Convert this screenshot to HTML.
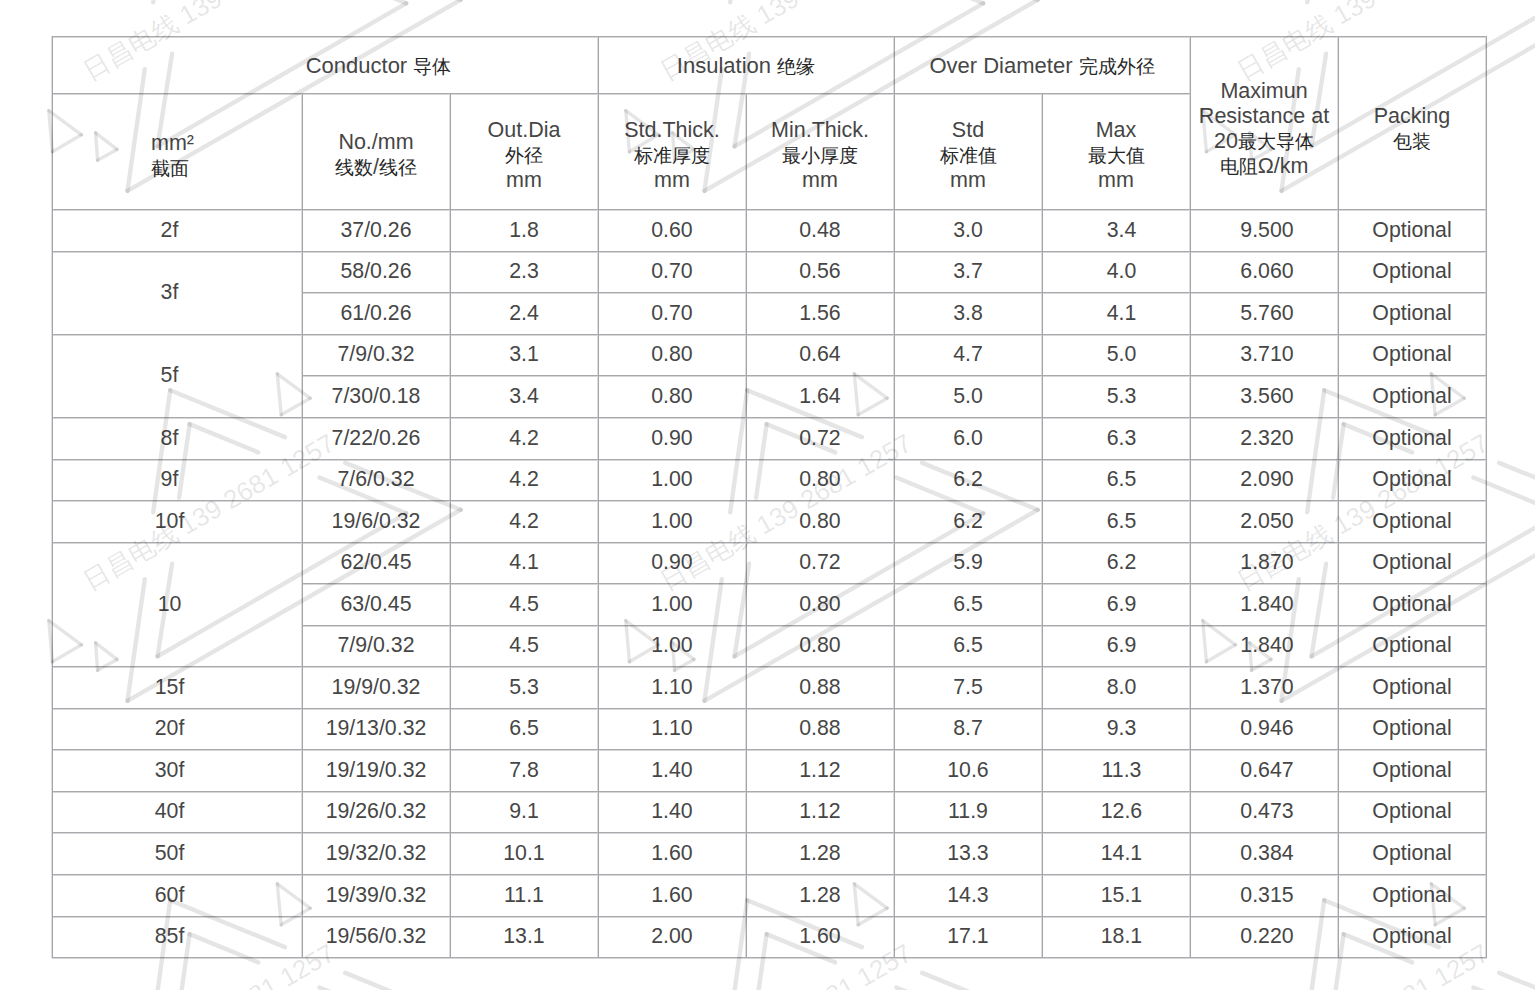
<!DOCTYPE html>
<html><head><meta charset="utf-8"><title>Cable spec table</title>
<style>
html,body{margin:0;padding:0;background:#fff;}
body{width:1535px;height:990px;position:relative;overflow:hidden;font-family:"Liberation Sans",sans-serif;color:#161616;}
.wm{position:absolute;left:0;top:0;width:1535px;height:990px;pointer-events:none;}
.hl{position:absolute;height:1px;background:#a9aaad;}
.hs{position:absolute;height:1px;background:#d6d7d9;}
.vl{position:absolute;width:1px;background:#a4a5a8;}
.vs{position:absolute;width:1px;background:#dcdddf;}
.t{position:absolute;text-align:center;font-size:21.3px;white-space:nowrap;transform:scaleY(1.07);color:#464646;}
.c{font-size:19px;color:#262626;}
.k{display:inline-block;width:1em;text-align:center;}
.h{position:absolute;text-align:center;font-size:21.5px;line-height:25px;white-space:nowrap;color:#464646;}
</style></head><body>
<div class="hs" style="left:52px;top:37px;width:1435px"></div><div class="hs" style="left:52px;top:94px;width:1139px"></div><div class="hs" style="left:52px;top:210px;width:1435px"></div><div class="hs" style="left:52px;top:252px;width:1435px"></div><div class="hs" style="left:302px;top:293px;width:1185px"></div><div class="hs" style="left:52px;top:335px;width:1435px"></div><div class="hs" style="left:302px;top:376px;width:1185px"></div><div class="hs" style="left:52px;top:418px;width:1435px"></div><div class="hs" style="left:52px;top:460px;width:1435px"></div><div class="hs" style="left:52px;top:501px;width:1435px"></div><div class="hs" style="left:52px;top:543px;width:1435px"></div><div class="hs" style="left:302px;top:584px;width:1185px"></div><div class="hs" style="left:302px;top:626px;width:1185px"></div><div class="hs" style="left:52px;top:667px;width:1435px"></div><div class="hs" style="left:52px;top:709px;width:1435px"></div><div class="hs" style="left:52px;top:750px;width:1435px"></div><div class="hs" style="left:52px;top:792px;width:1435px"></div><div class="hs" style="left:52px;top:833px;width:1435px"></div><div class="hs" style="left:52px;top:875px;width:1435px"></div><div class="hs" style="left:52px;top:917px;width:1435px"></div><div class="hs" style="left:52px;top:958px;width:1435px"></div><div class="vs" style="left:51px;top:36px;height:922px"></div><div class="vs" style="left:1485px;top:36px;height:922px"></div><div class="vs" style="left:597px;top:36px;height:922px"></div><div class="vs" style="left:893px;top:36px;height:922px"></div><div class="vs" style="left:1189px;top:36px;height:922px"></div><div class="vs" style="left:1337px;top:36px;height:922px"></div><div class="vs" style="left:301px;top:93px;height:865px"></div><div class="vs" style="left:449px;top:93px;height:865px"></div><div class="vs" style="left:745px;top:93px;height:865px"></div><div class="vs" style="left:1041px;top:93px;height:865px"></div><div class="hl" style="left:52px;top:36px;width:1435px"></div><div class="hl" style="left:52px;top:93px;width:1139px"></div><div class="hl" style="left:52px;top:209px;width:1435px"></div><div class="hl" style="left:52px;top:251px;width:1435px"></div><div class="hl" style="left:302px;top:292px;width:1185px"></div><div class="hl" style="left:52px;top:334px;width:1435px"></div><div class="hl" style="left:302px;top:375px;width:1185px"></div><div class="hl" style="left:52px;top:417px;width:1435px"></div><div class="hl" style="left:52px;top:459px;width:1435px"></div><div class="hl" style="left:52px;top:500px;width:1435px"></div><div class="hl" style="left:52px;top:542px;width:1435px"></div><div class="hl" style="left:302px;top:583px;width:1185px"></div><div class="hl" style="left:302px;top:625px;width:1185px"></div><div class="hl" style="left:52px;top:666px;width:1435px"></div><div class="hl" style="left:52px;top:708px;width:1435px"></div><div class="hl" style="left:52px;top:749px;width:1435px"></div><div class="hl" style="left:52px;top:791px;width:1435px"></div><div class="hl" style="left:52px;top:832px;width:1435px"></div><div class="hl" style="left:52px;top:874px;width:1435px"></div><div class="hl" style="left:52px;top:916px;width:1435px"></div><div class="hl" style="left:52px;top:957px;width:1435px"></div><div class="vl" style="left:52px;top:36px;height:922px"></div><div class="vl" style="left:1486px;top:36px;height:922px"></div><div class="vl" style="left:598px;top:36px;height:922px"></div><div class="vl" style="left:894px;top:36px;height:922px"></div><div class="vl" style="left:1190px;top:36px;height:922px"></div><div class="vl" style="left:1338px;top:36px;height:922px"></div><div class="vl" style="left:302px;top:93px;height:865px"></div><div class="vl" style="left:450px;top:93px;height:865px"></div><div class="vl" style="left:746px;top:93px;height:865px"></div><div class="vl" style="left:1042px;top:93px;height:865px"></div><div class="t" style="left:378.5px;top:37.0px;width:400px;margin-left:-200px;height:58.0px;line-height:58.0px;font-size:22px;transform:none">Conductor <span class="c"><span class="k">导</span><span class="k">体</span></span></div><div class="t" style="left:746.0px;top:37.0px;width:400px;margin-left:-200px;height:58.0px;line-height:58.0px;font-size:22px;transform:none">Insulation <span class="c"><span class="k">绝</span><span class="k">缘</span></span></div><div class="t" style="left:1042.0px;top:37.0px;width:400px;margin-left:-200px;height:58.0px;line-height:58.0px;font-size:22px;transform:none">Over Diameter <span class="c"><span class="k">完</span><span class="k">成</span><span class="k">外</span><span class="k">径</span></span></div><div class="h" style="left:1264.0px;top:78.5px;width:240px;margin-left:-120px;">Maximun<br>Resistance at<br>20<span class="c"><span class="k">最</span><span class="k">大</span><span class="k">导</span><span class="k">体</span></span><br><span class="c"><span class="k">电</span><span class="k">阻</span></span>Ω/km</div><div class="h" style="left:1412.0px;top:103.5px;width:240px;margin-left:-120px;">Packing<br><span class="c"><span class="k">包</span><span class="k">装</span></span></div><div class="h" style="left:151px;top:130.5px;text-align:left">mm²<br><span class="c"><span class="k">截</span><span class="k">面</span></span></div><div class="h" style="left:376.0px;top:130.0px;width:240px;margin-left:-120px;">No./mm<br><span class="c"><span class="k">线</span><span class="k">数</span></span>/<span class="c"><span class="k">线</span><span class="k">径</span></span></div><div class="h" style="left:524.0px;top:117.5px;width:240px;margin-left:-120px;">Out.Dia<br><span class="c"><span class="k">外</span><span class="k">径</span></span><br>mm</div><div class="h" style="left:672.0px;top:117.5px;width:240px;margin-left:-120px;">Std.Thick.<br><span class="c"><span class="k">标</span><span class="k">准</span><span class="k">厚</span><span class="k">度</span></span><br>mm</div><div class="h" style="left:820.0px;top:117.5px;width:240px;margin-left:-120px;">Min.Thick.<br><span class="c"><span class="k">最</span><span class="k">小</span><span class="k">厚</span><span class="k">度</span></span><br>mm</div><div class="h" style="left:968.0px;top:117.5px;width:240px;margin-left:-120px;">Std<br><span class="c"><span class="k">标</span><span class="k">准</span><span class="k">值</span></span><br>mm</div><div class="h" style="left:1116.0px;top:117.5px;width:240px;margin-left:-120px;">Max<br><span class="c"><span class="k">最</span><span class="k">大</span><span class="k">值</span></span><br>mm</div><div class="t" style="left:169.5px;top:209.8px;width:400px;margin-left:-200px;height:41.5px;line-height:41.5px;">2f</div><div class="t" style="left:376.0px;top:209.8px;width:400px;margin-left:-200px;height:41.5px;line-height:41.5px;">37/0.26</div><div class="t" style="left:524.0px;top:209.8px;width:400px;margin-left:-200px;height:41.5px;line-height:41.5px;">1.8</div><div class="t" style="left:672.0px;top:209.8px;width:400px;margin-left:-200px;height:41.5px;line-height:41.5px;">0.60</div><div class="t" style="left:820.0px;top:209.8px;width:400px;margin-left:-200px;height:41.5px;line-height:41.5px;">0.48</div><div class="t" style="left:968.0px;top:209.8px;width:400px;margin-left:-200px;height:41.5px;line-height:41.5px;">3.0</div><div class="t" style="left:1121.5px;top:209.8px;width:400px;margin-left:-200px;height:41.5px;line-height:41.5px;">3.4</div><div class="t" style="left:1267.0px;top:209.8px;width:400px;margin-left:-200px;height:41.5px;line-height:41.5px;">9.500</div><div class="t" style="left:1412.0px;top:209.8px;width:400px;margin-left:-200px;height:41.5px;line-height:41.5px;">Optional</div><div class="t" style="left:169.5px;top:251.3px;width:400px;margin-left:-200px;height:83.1px;line-height:83.1px;">3f</div><div class="t" style="left:376.0px;top:251.3px;width:400px;margin-left:-200px;height:41.5px;line-height:41.5px;">58/0.26</div><div class="t" style="left:524.0px;top:251.3px;width:400px;margin-left:-200px;height:41.5px;line-height:41.5px;">2.3</div><div class="t" style="left:672.0px;top:251.3px;width:400px;margin-left:-200px;height:41.5px;line-height:41.5px;">0.70</div><div class="t" style="left:820.0px;top:251.3px;width:400px;margin-left:-200px;height:41.5px;line-height:41.5px;">0.56</div><div class="t" style="left:968.0px;top:251.3px;width:400px;margin-left:-200px;height:41.5px;line-height:41.5px;">3.7</div><div class="t" style="left:1121.5px;top:251.3px;width:400px;margin-left:-200px;height:41.5px;line-height:41.5px;">4.0</div><div class="t" style="left:1267.0px;top:251.3px;width:400px;margin-left:-200px;height:41.5px;line-height:41.5px;">6.060</div><div class="t" style="left:1412.0px;top:251.3px;width:400px;margin-left:-200px;height:41.5px;line-height:41.5px;">Optional</div><div class="t" style="left:376.0px;top:292.9px;width:400px;margin-left:-200px;height:41.5px;line-height:41.5px;">61/0.26</div><div class="t" style="left:524.0px;top:292.9px;width:400px;margin-left:-200px;height:41.5px;line-height:41.5px;">2.4</div><div class="t" style="left:672.0px;top:292.9px;width:400px;margin-left:-200px;height:41.5px;line-height:41.5px;">0.70</div><div class="t" style="left:820.0px;top:292.9px;width:400px;margin-left:-200px;height:41.5px;line-height:41.5px;">1.56</div><div class="t" style="left:968.0px;top:292.9px;width:400px;margin-left:-200px;height:41.5px;line-height:41.5px;">3.8</div><div class="t" style="left:1121.5px;top:292.9px;width:400px;margin-left:-200px;height:41.5px;line-height:41.5px;">4.1</div><div class="t" style="left:1267.0px;top:292.9px;width:400px;margin-left:-200px;height:41.5px;line-height:41.5px;">5.760</div><div class="t" style="left:1412.0px;top:292.9px;width:400px;margin-left:-200px;height:41.5px;line-height:41.5px;">Optional</div><div class="t" style="left:169.5px;top:334.4px;width:400px;margin-left:-200px;height:83.1px;line-height:83.1px;">5f</div><div class="t" style="left:376.0px;top:334.4px;width:400px;margin-left:-200px;height:41.5px;line-height:41.5px;">7/9/0.32</div><div class="t" style="left:524.0px;top:334.4px;width:400px;margin-left:-200px;height:41.5px;line-height:41.5px;">3.1</div><div class="t" style="left:672.0px;top:334.4px;width:400px;margin-left:-200px;height:41.5px;line-height:41.5px;">0.80</div><div class="t" style="left:820.0px;top:334.4px;width:400px;margin-left:-200px;height:41.5px;line-height:41.5px;">0.64</div><div class="t" style="left:968.0px;top:334.4px;width:400px;margin-left:-200px;height:41.5px;line-height:41.5px;">4.7</div><div class="t" style="left:1121.5px;top:334.4px;width:400px;margin-left:-200px;height:41.5px;line-height:41.5px;">5.0</div><div class="t" style="left:1267.0px;top:334.4px;width:400px;margin-left:-200px;height:41.5px;line-height:41.5px;">3.710</div><div class="t" style="left:1412.0px;top:334.4px;width:400px;margin-left:-200px;height:41.5px;line-height:41.5px;">Optional</div><div class="t" style="left:376.0px;top:376.0px;width:400px;margin-left:-200px;height:41.5px;line-height:41.5px;">7/30/0.18</div><div class="t" style="left:524.0px;top:376.0px;width:400px;margin-left:-200px;height:41.5px;line-height:41.5px;">3.4</div><div class="t" style="left:672.0px;top:376.0px;width:400px;margin-left:-200px;height:41.5px;line-height:41.5px;">0.80</div><div class="t" style="left:820.0px;top:376.0px;width:400px;margin-left:-200px;height:41.5px;line-height:41.5px;">1.64</div><div class="t" style="left:968.0px;top:376.0px;width:400px;margin-left:-200px;height:41.5px;line-height:41.5px;">5.0</div><div class="t" style="left:1121.5px;top:376.0px;width:400px;margin-left:-200px;height:41.5px;line-height:41.5px;">5.3</div><div class="t" style="left:1267.0px;top:376.0px;width:400px;margin-left:-200px;height:41.5px;line-height:41.5px;">3.560</div><div class="t" style="left:1412.0px;top:376.0px;width:400px;margin-left:-200px;height:41.5px;line-height:41.5px;">Optional</div><div class="t" style="left:169.5px;top:417.5px;width:400px;margin-left:-200px;height:41.5px;line-height:41.5px;">8f</div><div class="t" style="left:376.0px;top:417.5px;width:400px;margin-left:-200px;height:41.5px;line-height:41.5px;">7/22/0.26</div><div class="t" style="left:524.0px;top:417.5px;width:400px;margin-left:-200px;height:41.5px;line-height:41.5px;">4.2</div><div class="t" style="left:672.0px;top:417.5px;width:400px;margin-left:-200px;height:41.5px;line-height:41.5px;">0.90</div><div class="t" style="left:820.0px;top:417.5px;width:400px;margin-left:-200px;height:41.5px;line-height:41.5px;">0.72</div><div class="t" style="left:968.0px;top:417.5px;width:400px;margin-left:-200px;height:41.5px;line-height:41.5px;">6.0</div><div class="t" style="left:1121.5px;top:417.5px;width:400px;margin-left:-200px;height:41.5px;line-height:41.5px;">6.3</div><div class="t" style="left:1267.0px;top:417.5px;width:400px;margin-left:-200px;height:41.5px;line-height:41.5px;">2.320</div><div class="t" style="left:1412.0px;top:417.5px;width:400px;margin-left:-200px;height:41.5px;line-height:41.5px;">Optional</div><div class="t" style="left:169.5px;top:459.1px;width:400px;margin-left:-200px;height:41.5px;line-height:41.5px;">9f</div><div class="t" style="left:376.0px;top:459.1px;width:400px;margin-left:-200px;height:41.5px;line-height:41.5px;">7/6/0.32</div><div class="t" style="left:524.0px;top:459.1px;width:400px;margin-left:-200px;height:41.5px;line-height:41.5px;">4.2</div><div class="t" style="left:672.0px;top:459.1px;width:400px;margin-left:-200px;height:41.5px;line-height:41.5px;">1.00</div><div class="t" style="left:820.0px;top:459.1px;width:400px;margin-left:-200px;height:41.5px;line-height:41.5px;">0.80</div><div class="t" style="left:968.0px;top:459.1px;width:400px;margin-left:-200px;height:41.5px;line-height:41.5px;">6.2</div><div class="t" style="left:1121.5px;top:459.1px;width:400px;margin-left:-200px;height:41.5px;line-height:41.5px;">6.5</div><div class="t" style="left:1267.0px;top:459.1px;width:400px;margin-left:-200px;height:41.5px;line-height:41.5px;">2.090</div><div class="t" style="left:1412.0px;top:459.1px;width:400px;margin-left:-200px;height:41.5px;line-height:41.5px;">Optional</div><div class="t" style="left:169.5px;top:500.6px;width:400px;margin-left:-200px;height:41.5px;line-height:41.5px;">10f</div><div class="t" style="left:376.0px;top:500.6px;width:400px;margin-left:-200px;height:41.5px;line-height:41.5px;">19/6/0.32</div><div class="t" style="left:524.0px;top:500.6px;width:400px;margin-left:-200px;height:41.5px;line-height:41.5px;">4.2</div><div class="t" style="left:672.0px;top:500.6px;width:400px;margin-left:-200px;height:41.5px;line-height:41.5px;">1.00</div><div class="t" style="left:820.0px;top:500.6px;width:400px;margin-left:-200px;height:41.5px;line-height:41.5px;">0.80</div><div class="t" style="left:968.0px;top:500.6px;width:400px;margin-left:-200px;height:41.5px;line-height:41.5px;">6.2</div><div class="t" style="left:1121.5px;top:500.6px;width:400px;margin-left:-200px;height:41.5px;line-height:41.5px;">6.5</div><div class="t" style="left:1267.0px;top:500.6px;width:400px;margin-left:-200px;height:41.5px;line-height:41.5px;">2.050</div><div class="t" style="left:1412.0px;top:500.6px;width:400px;margin-left:-200px;height:41.5px;line-height:41.5px;">Optional</div><div class="t" style="left:169.5px;top:542.2px;width:400px;margin-left:-200px;height:124.6px;line-height:124.6px;">10</div><div class="t" style="left:376.0px;top:542.2px;width:400px;margin-left:-200px;height:41.5px;line-height:41.5px;">62/0.45</div><div class="t" style="left:524.0px;top:542.2px;width:400px;margin-left:-200px;height:41.5px;line-height:41.5px;">4.1</div><div class="t" style="left:672.0px;top:542.2px;width:400px;margin-left:-200px;height:41.5px;line-height:41.5px;">0.90</div><div class="t" style="left:820.0px;top:542.2px;width:400px;margin-left:-200px;height:41.5px;line-height:41.5px;">0.72</div><div class="t" style="left:968.0px;top:542.2px;width:400px;margin-left:-200px;height:41.5px;line-height:41.5px;">5.9</div><div class="t" style="left:1121.5px;top:542.2px;width:400px;margin-left:-200px;height:41.5px;line-height:41.5px;">6.2</div><div class="t" style="left:1267.0px;top:542.2px;width:400px;margin-left:-200px;height:41.5px;line-height:41.5px;">1.870</div><div class="t" style="left:1412.0px;top:542.2px;width:400px;margin-left:-200px;height:41.5px;line-height:41.5px;">Optional</div><div class="t" style="left:376.0px;top:583.7px;width:400px;margin-left:-200px;height:41.5px;line-height:41.5px;">63/0.45</div><div class="t" style="left:524.0px;top:583.7px;width:400px;margin-left:-200px;height:41.5px;line-height:41.5px;">4.5</div><div class="t" style="left:672.0px;top:583.7px;width:400px;margin-left:-200px;height:41.5px;line-height:41.5px;">1.00</div><div class="t" style="left:820.0px;top:583.7px;width:400px;margin-left:-200px;height:41.5px;line-height:41.5px;">0.80</div><div class="t" style="left:968.0px;top:583.7px;width:400px;margin-left:-200px;height:41.5px;line-height:41.5px;">6.5</div><div class="t" style="left:1121.5px;top:583.7px;width:400px;margin-left:-200px;height:41.5px;line-height:41.5px;">6.9</div><div class="t" style="left:1267.0px;top:583.7px;width:400px;margin-left:-200px;height:41.5px;line-height:41.5px;">1.840</div><div class="t" style="left:1412.0px;top:583.7px;width:400px;margin-left:-200px;height:41.5px;line-height:41.5px;">Optional</div><div class="t" style="left:376.0px;top:625.2px;width:400px;margin-left:-200px;height:41.5px;line-height:41.5px;">7/9/0.32</div><div class="t" style="left:524.0px;top:625.2px;width:400px;margin-left:-200px;height:41.5px;line-height:41.5px;">4.5</div><div class="t" style="left:672.0px;top:625.2px;width:400px;margin-left:-200px;height:41.5px;line-height:41.5px;">1.00</div><div class="t" style="left:820.0px;top:625.2px;width:400px;margin-left:-200px;height:41.5px;line-height:41.5px;">0.80</div><div class="t" style="left:968.0px;top:625.2px;width:400px;margin-left:-200px;height:41.5px;line-height:41.5px;">6.5</div><div class="t" style="left:1121.5px;top:625.2px;width:400px;margin-left:-200px;height:41.5px;line-height:41.5px;">6.9</div><div class="t" style="left:1267.0px;top:625.2px;width:400px;margin-left:-200px;height:41.5px;line-height:41.5px;">1.840</div><div class="t" style="left:1412.0px;top:625.2px;width:400px;margin-left:-200px;height:41.5px;line-height:41.5px;">Optional</div><div class="t" style="left:169.5px;top:666.8px;width:400px;margin-left:-200px;height:41.5px;line-height:41.5px;">15f</div><div class="t" style="left:376.0px;top:666.8px;width:400px;margin-left:-200px;height:41.5px;line-height:41.5px;">19/9/0.32</div><div class="t" style="left:524.0px;top:666.8px;width:400px;margin-left:-200px;height:41.5px;line-height:41.5px;">5.3</div><div class="t" style="left:672.0px;top:666.8px;width:400px;margin-left:-200px;height:41.5px;line-height:41.5px;">1.10</div><div class="t" style="left:820.0px;top:666.8px;width:400px;margin-left:-200px;height:41.5px;line-height:41.5px;">0.88</div><div class="t" style="left:968.0px;top:666.8px;width:400px;margin-left:-200px;height:41.5px;line-height:41.5px;">7.5</div><div class="t" style="left:1121.5px;top:666.8px;width:400px;margin-left:-200px;height:41.5px;line-height:41.5px;">8.0</div><div class="t" style="left:1267.0px;top:666.8px;width:400px;margin-left:-200px;height:41.5px;line-height:41.5px;">1.370</div><div class="t" style="left:1412.0px;top:666.8px;width:400px;margin-left:-200px;height:41.5px;line-height:41.5px;">Optional</div><div class="t" style="left:169.5px;top:708.3px;width:400px;margin-left:-200px;height:41.5px;line-height:41.5px;">20f</div><div class="t" style="left:376.0px;top:708.3px;width:400px;margin-left:-200px;height:41.5px;line-height:41.5px;">19/13/0.32</div><div class="t" style="left:524.0px;top:708.3px;width:400px;margin-left:-200px;height:41.5px;line-height:41.5px;">6.5</div><div class="t" style="left:672.0px;top:708.3px;width:400px;margin-left:-200px;height:41.5px;line-height:41.5px;">1.10</div><div class="t" style="left:820.0px;top:708.3px;width:400px;margin-left:-200px;height:41.5px;line-height:41.5px;">0.88</div><div class="t" style="left:968.0px;top:708.3px;width:400px;margin-left:-200px;height:41.5px;line-height:41.5px;">8.7</div><div class="t" style="left:1121.5px;top:708.3px;width:400px;margin-left:-200px;height:41.5px;line-height:41.5px;">9.3</div><div class="t" style="left:1267.0px;top:708.3px;width:400px;margin-left:-200px;height:41.5px;line-height:41.5px;">0.946</div><div class="t" style="left:1412.0px;top:708.3px;width:400px;margin-left:-200px;height:41.5px;line-height:41.5px;">Optional</div><div class="t" style="left:169.5px;top:749.9px;width:400px;margin-left:-200px;height:41.5px;line-height:41.5px;">30f</div><div class="t" style="left:376.0px;top:749.9px;width:400px;margin-left:-200px;height:41.5px;line-height:41.5px;">19/19/0.32</div><div class="t" style="left:524.0px;top:749.9px;width:400px;margin-left:-200px;height:41.5px;line-height:41.5px;">7.8</div><div class="t" style="left:672.0px;top:749.9px;width:400px;margin-left:-200px;height:41.5px;line-height:41.5px;">1.40</div><div class="t" style="left:820.0px;top:749.9px;width:400px;margin-left:-200px;height:41.5px;line-height:41.5px;">1.12</div><div class="t" style="left:968.0px;top:749.9px;width:400px;margin-left:-200px;height:41.5px;line-height:41.5px;">10.6</div><div class="t" style="left:1121.5px;top:749.9px;width:400px;margin-left:-200px;height:41.5px;line-height:41.5px;">11.3</div><div class="t" style="left:1267.0px;top:749.9px;width:400px;margin-left:-200px;height:41.5px;line-height:41.5px;">0.647</div><div class="t" style="left:1412.0px;top:749.9px;width:400px;margin-left:-200px;height:41.5px;line-height:41.5px;">Optional</div><div class="t" style="left:169.5px;top:791.4px;width:400px;margin-left:-200px;height:41.5px;line-height:41.5px;">40f</div><div class="t" style="left:376.0px;top:791.4px;width:400px;margin-left:-200px;height:41.5px;line-height:41.5px;">19/26/0.32</div><div class="t" style="left:524.0px;top:791.4px;width:400px;margin-left:-200px;height:41.5px;line-height:41.5px;">9.1</div><div class="t" style="left:672.0px;top:791.4px;width:400px;margin-left:-200px;height:41.5px;line-height:41.5px;">1.40</div><div class="t" style="left:820.0px;top:791.4px;width:400px;margin-left:-200px;height:41.5px;line-height:41.5px;">1.12</div><div class="t" style="left:968.0px;top:791.4px;width:400px;margin-left:-200px;height:41.5px;line-height:41.5px;">11.9</div><div class="t" style="left:1121.5px;top:791.4px;width:400px;margin-left:-200px;height:41.5px;line-height:41.5px;">12.6</div><div class="t" style="left:1267.0px;top:791.4px;width:400px;margin-left:-200px;height:41.5px;line-height:41.5px;">0.473</div><div class="t" style="left:1412.0px;top:791.4px;width:400px;margin-left:-200px;height:41.5px;line-height:41.5px;">Optional</div><div class="t" style="left:169.5px;top:833.0px;width:400px;margin-left:-200px;height:41.5px;line-height:41.5px;">50f</div><div class="t" style="left:376.0px;top:833.0px;width:400px;margin-left:-200px;height:41.5px;line-height:41.5px;">19/32/0.32</div><div class="t" style="left:524.0px;top:833.0px;width:400px;margin-left:-200px;height:41.5px;line-height:41.5px;">10.1</div><div class="t" style="left:672.0px;top:833.0px;width:400px;margin-left:-200px;height:41.5px;line-height:41.5px;">1.60</div><div class="t" style="left:820.0px;top:833.0px;width:400px;margin-left:-200px;height:41.5px;line-height:41.5px;">1.28</div><div class="t" style="left:968.0px;top:833.0px;width:400px;margin-left:-200px;height:41.5px;line-height:41.5px;">13.3</div><div class="t" style="left:1121.5px;top:833.0px;width:400px;margin-left:-200px;height:41.5px;line-height:41.5px;">14.1</div><div class="t" style="left:1267.0px;top:833.0px;width:400px;margin-left:-200px;height:41.5px;line-height:41.5px;">0.384</div><div class="t" style="left:1412.0px;top:833.0px;width:400px;margin-left:-200px;height:41.5px;line-height:41.5px;">Optional</div><div class="t" style="left:169.5px;top:874.5px;width:400px;margin-left:-200px;height:41.5px;line-height:41.5px;">60f</div><div class="t" style="left:376.0px;top:874.5px;width:400px;margin-left:-200px;height:41.5px;line-height:41.5px;">19/39/0.32</div><div class="t" style="left:524.0px;top:874.5px;width:400px;margin-left:-200px;height:41.5px;line-height:41.5px;">11.1</div><div class="t" style="left:672.0px;top:874.5px;width:400px;margin-left:-200px;height:41.5px;line-height:41.5px;">1.60</div><div class="t" style="left:820.0px;top:874.5px;width:400px;margin-left:-200px;height:41.5px;line-height:41.5px;">1.28</div><div class="t" style="left:968.0px;top:874.5px;width:400px;margin-left:-200px;height:41.5px;line-height:41.5px;">14.3</div><div class="t" style="left:1121.5px;top:874.5px;width:400px;margin-left:-200px;height:41.5px;line-height:41.5px;">15.1</div><div class="t" style="left:1267.0px;top:874.5px;width:400px;margin-left:-200px;height:41.5px;line-height:41.5px;">0.315</div><div class="t" style="left:1412.0px;top:874.5px;width:400px;margin-left:-200px;height:41.5px;line-height:41.5px;">Optional</div><div class="t" style="left:169.5px;top:916.1px;width:400px;margin-left:-200px;height:41.5px;line-height:41.5px;">85f</div><div class="t" style="left:376.0px;top:916.1px;width:400px;margin-left:-200px;height:41.5px;line-height:41.5px;">19/56/0.32</div><div class="t" style="left:524.0px;top:916.1px;width:400px;margin-left:-200px;height:41.5px;line-height:41.5px;">13.1</div><div class="t" style="left:672.0px;top:916.1px;width:400px;margin-left:-200px;height:41.5px;line-height:41.5px;">2.00</div><div class="t" style="left:820.0px;top:916.1px;width:400px;margin-left:-200px;height:41.5px;line-height:41.5px;">1.60</div><div class="t" style="left:968.0px;top:916.1px;width:400px;margin-left:-200px;height:41.5px;line-height:41.5px;">17.1</div><div class="t" style="left:1121.5px;top:916.1px;width:400px;margin-left:-200px;height:41.5px;line-height:41.5px;">18.1</div><div class="t" style="left:1267.0px;top:916.1px;width:400px;margin-left:-200px;height:41.5px;line-height:41.5px;">0.220</div><div class="t" style="left:1412.0px;top:916.1px;width:400px;margin-left:-200px;height:41.5px;line-height:41.5px;">Optional</div><svg class="wm" width="1535" height="990" viewBox="0 0 1535 990"><g fill="none" stroke="rgba(0,0,0,0.1)" stroke-width="4.4" stroke-linecap="round" font-family="Liberation Sans, sans-serif"><g transform="translate(-577 -510)"><g stroke-width="3.4"><line x1="625.8" y1="620.6" x2="629.4" y2="661.8"/><line x1="629.4" y1="661.8" x2="658.5" y2="644.8"/><line x1="658.5" y1="644.8" x2="625.8" y2="620.6"/><line x1="672.6" y1="642.8" x2="674.6" y2="670.3"/><line x1="674.6" y1="670.3" x2="694.0" y2="659.4"/><line x1="694.0" y1="659.4" x2="672.6" y2="642.8"/><line x1="854.3" y1="373.8" x2="858.2" y2="414.8"/><line x1="858.2" y1="414.8" x2="887.2" y2="398.2"/><line x1="887.2" y1="398.2" x2="854.3" y2="373.8"/></g><line x1="730.2" y1="512.2" x2="747.2" y2="390.2"/><line x1="747.2" y1="390.2" x2="861.9" y2="437.1"/><line x1="756.1" y1="497.7" x2="766.6" y2="424.1"/><line x1="766.6" y1="424.1" x2="835.2" y2="452.4"/><line x1="922.2" y1="462.9" x2="1037.7" y2="509.8"/><line x1="1037.7" y1="509.8" x2="704.5" y2="700.9"/><line x1="704.5" y1="700.9" x2="721.8" y2="579.1"/><line x1="896.4" y1="477.5" x2="983.2" y2="513.3"/><line x1="983.2" y1="513.3" x2="734.5" y2="656.4"/><line x1="734.5" y1="656.4" x2="749.1" y2="563.6"/><text x="667" y="591" transform="rotate(-30 667 591)" font-size="26" textLength="285" lengthAdjust="spacing" fill="rgba(0,0,0,0.11)" stroke="none">日昌电线 139 2681 1257</text></g><g transform="translate(-577 0)"><g stroke-width="3.4"><line x1="625.8" y1="620.6" x2="629.4" y2="661.8"/><line x1="629.4" y1="661.8" x2="658.5" y2="644.8"/><line x1="658.5" y1="644.8" x2="625.8" y2="620.6"/><line x1="672.6" y1="642.8" x2="674.6" y2="670.3"/><line x1="674.6" y1="670.3" x2="694.0" y2="659.4"/><line x1="694.0" y1="659.4" x2="672.6" y2="642.8"/><line x1="854.3" y1="373.8" x2="858.2" y2="414.8"/><line x1="858.2" y1="414.8" x2="887.2" y2="398.2"/><line x1="887.2" y1="398.2" x2="854.3" y2="373.8"/></g><line x1="730.2" y1="512.2" x2="747.2" y2="390.2"/><line x1="747.2" y1="390.2" x2="861.9" y2="437.1"/><line x1="756.1" y1="497.7" x2="766.6" y2="424.1"/><line x1="766.6" y1="424.1" x2="835.2" y2="452.4"/><line x1="922.2" y1="462.9" x2="1037.7" y2="509.8"/><line x1="1037.7" y1="509.8" x2="704.5" y2="700.9"/><line x1="704.5" y1="700.9" x2="721.8" y2="579.1"/><line x1="896.4" y1="477.5" x2="983.2" y2="513.3"/><line x1="983.2" y1="513.3" x2="734.5" y2="656.4"/><line x1="734.5" y1="656.4" x2="749.1" y2="563.6"/><text x="667" y="591" transform="rotate(-30 667 591)" font-size="26" textLength="285" lengthAdjust="spacing" fill="rgba(0,0,0,0.11)" stroke="none">日昌电线 139 2681 1257</text></g><g transform="translate(-577 510)"><g stroke-width="3.4"><line x1="625.8" y1="620.6" x2="629.4" y2="661.8"/><line x1="629.4" y1="661.8" x2="658.5" y2="644.8"/><line x1="658.5" y1="644.8" x2="625.8" y2="620.6"/><line x1="672.6" y1="642.8" x2="674.6" y2="670.3"/><line x1="674.6" y1="670.3" x2="694.0" y2="659.4"/><line x1="694.0" y1="659.4" x2="672.6" y2="642.8"/><line x1="854.3" y1="373.8" x2="858.2" y2="414.8"/><line x1="858.2" y1="414.8" x2="887.2" y2="398.2"/><line x1="887.2" y1="398.2" x2="854.3" y2="373.8"/></g><line x1="730.2" y1="512.2" x2="747.2" y2="390.2"/><line x1="747.2" y1="390.2" x2="861.9" y2="437.1"/><line x1="756.1" y1="497.7" x2="766.6" y2="424.1"/><line x1="766.6" y1="424.1" x2="835.2" y2="452.4"/><line x1="922.2" y1="462.9" x2="1037.7" y2="509.8"/><line x1="1037.7" y1="509.8" x2="704.5" y2="700.9"/><line x1="704.5" y1="700.9" x2="721.8" y2="579.1"/><line x1="896.4" y1="477.5" x2="983.2" y2="513.3"/><line x1="983.2" y1="513.3" x2="734.5" y2="656.4"/><line x1="734.5" y1="656.4" x2="749.1" y2="563.6"/><text x="667" y="591" transform="rotate(-30 667 591)" font-size="26" textLength="285" lengthAdjust="spacing" fill="rgba(0,0,0,0.11)" stroke="none">日昌电线 139 2681 1257</text></g><g transform="translate(0 -510)"><g stroke-width="3.4"><line x1="625.8" y1="620.6" x2="629.4" y2="661.8"/><line x1="629.4" y1="661.8" x2="658.5" y2="644.8"/><line x1="658.5" y1="644.8" x2="625.8" y2="620.6"/><line x1="672.6" y1="642.8" x2="674.6" y2="670.3"/><line x1="674.6" y1="670.3" x2="694.0" y2="659.4"/><line x1="694.0" y1="659.4" x2="672.6" y2="642.8"/><line x1="854.3" y1="373.8" x2="858.2" y2="414.8"/><line x1="858.2" y1="414.8" x2="887.2" y2="398.2"/><line x1="887.2" y1="398.2" x2="854.3" y2="373.8"/></g><line x1="730.2" y1="512.2" x2="747.2" y2="390.2"/><line x1="747.2" y1="390.2" x2="861.9" y2="437.1"/><line x1="756.1" y1="497.7" x2="766.6" y2="424.1"/><line x1="766.6" y1="424.1" x2="835.2" y2="452.4"/><line x1="922.2" y1="462.9" x2="1037.7" y2="509.8"/><line x1="1037.7" y1="509.8" x2="704.5" y2="700.9"/><line x1="704.5" y1="700.9" x2="721.8" y2="579.1"/><line x1="896.4" y1="477.5" x2="983.2" y2="513.3"/><line x1="983.2" y1="513.3" x2="734.5" y2="656.4"/><line x1="734.5" y1="656.4" x2="749.1" y2="563.6"/><text x="667" y="591" transform="rotate(-30 667 591)" font-size="26" textLength="285" lengthAdjust="spacing" fill="rgba(0,0,0,0.11)" stroke="none">日昌电线 139 2681 1257</text></g><g transform="translate(0 0)"><g stroke-width="3.4"><line x1="625.8" y1="620.6" x2="629.4" y2="661.8"/><line x1="629.4" y1="661.8" x2="658.5" y2="644.8"/><line x1="658.5" y1="644.8" x2="625.8" y2="620.6"/><line x1="672.6" y1="642.8" x2="674.6" y2="670.3"/><line x1="674.6" y1="670.3" x2="694.0" y2="659.4"/><line x1="694.0" y1="659.4" x2="672.6" y2="642.8"/><line x1="854.3" y1="373.8" x2="858.2" y2="414.8"/><line x1="858.2" y1="414.8" x2="887.2" y2="398.2"/><line x1="887.2" y1="398.2" x2="854.3" y2="373.8"/></g><line x1="730.2" y1="512.2" x2="747.2" y2="390.2"/><line x1="747.2" y1="390.2" x2="861.9" y2="437.1"/><line x1="756.1" y1="497.7" x2="766.6" y2="424.1"/><line x1="766.6" y1="424.1" x2="835.2" y2="452.4"/><line x1="922.2" y1="462.9" x2="1037.7" y2="509.8"/><line x1="1037.7" y1="509.8" x2="704.5" y2="700.9"/><line x1="704.5" y1="700.9" x2="721.8" y2="579.1"/><line x1="896.4" y1="477.5" x2="983.2" y2="513.3"/><line x1="983.2" y1="513.3" x2="734.5" y2="656.4"/><line x1="734.5" y1="656.4" x2="749.1" y2="563.6"/><text x="667" y="591" transform="rotate(-30 667 591)" font-size="26" textLength="285" lengthAdjust="spacing" fill="rgba(0,0,0,0.11)" stroke="none">日昌电线 139 2681 1257</text></g><g transform="translate(0 510)"><g stroke-width="3.4"><line x1="625.8" y1="620.6" x2="629.4" y2="661.8"/><line x1="629.4" y1="661.8" x2="658.5" y2="644.8"/><line x1="658.5" y1="644.8" x2="625.8" y2="620.6"/><line x1="672.6" y1="642.8" x2="674.6" y2="670.3"/><line x1="674.6" y1="670.3" x2="694.0" y2="659.4"/><line x1="694.0" y1="659.4" x2="672.6" y2="642.8"/><line x1="854.3" y1="373.8" x2="858.2" y2="414.8"/><line x1="858.2" y1="414.8" x2="887.2" y2="398.2"/><line x1="887.2" y1="398.2" x2="854.3" y2="373.8"/></g><line x1="730.2" y1="512.2" x2="747.2" y2="390.2"/><line x1="747.2" y1="390.2" x2="861.9" y2="437.1"/><line x1="756.1" y1="497.7" x2="766.6" y2="424.1"/><line x1="766.6" y1="424.1" x2="835.2" y2="452.4"/><line x1="922.2" y1="462.9" x2="1037.7" y2="509.8"/><line x1="1037.7" y1="509.8" x2="704.5" y2="700.9"/><line x1="704.5" y1="700.9" x2="721.8" y2="579.1"/><line x1="896.4" y1="477.5" x2="983.2" y2="513.3"/><line x1="983.2" y1="513.3" x2="734.5" y2="656.4"/><line x1="734.5" y1="656.4" x2="749.1" y2="563.6"/><text x="667" y="591" transform="rotate(-30 667 591)" font-size="26" textLength="285" lengthAdjust="spacing" fill="rgba(0,0,0,0.11)" stroke="none">日昌电线 139 2681 1257</text></g><g transform="translate(577 -510)"><g stroke-width="3.4"><line x1="625.8" y1="620.6" x2="629.4" y2="661.8"/><line x1="629.4" y1="661.8" x2="658.5" y2="644.8"/><line x1="658.5" y1="644.8" x2="625.8" y2="620.6"/><line x1="672.6" y1="642.8" x2="674.6" y2="670.3"/><line x1="674.6" y1="670.3" x2="694.0" y2="659.4"/><line x1="694.0" y1="659.4" x2="672.6" y2="642.8"/><line x1="854.3" y1="373.8" x2="858.2" y2="414.8"/><line x1="858.2" y1="414.8" x2="887.2" y2="398.2"/><line x1="887.2" y1="398.2" x2="854.3" y2="373.8"/></g><line x1="730.2" y1="512.2" x2="747.2" y2="390.2"/><line x1="747.2" y1="390.2" x2="861.9" y2="437.1"/><line x1="756.1" y1="497.7" x2="766.6" y2="424.1"/><line x1="766.6" y1="424.1" x2="835.2" y2="452.4"/><line x1="922.2" y1="462.9" x2="1037.7" y2="509.8"/><line x1="1037.7" y1="509.8" x2="704.5" y2="700.9"/><line x1="704.5" y1="700.9" x2="721.8" y2="579.1"/><line x1="896.4" y1="477.5" x2="983.2" y2="513.3"/><line x1="983.2" y1="513.3" x2="734.5" y2="656.4"/><line x1="734.5" y1="656.4" x2="749.1" y2="563.6"/><text x="667" y="591" transform="rotate(-30 667 591)" font-size="26" textLength="285" lengthAdjust="spacing" fill="rgba(0,0,0,0.11)" stroke="none">日昌电线 139 2681 1257</text></g><g transform="translate(577 0)"><g stroke-width="3.4"><line x1="625.8" y1="620.6" x2="629.4" y2="661.8"/><line x1="629.4" y1="661.8" x2="658.5" y2="644.8"/><line x1="658.5" y1="644.8" x2="625.8" y2="620.6"/><line x1="672.6" y1="642.8" x2="674.6" y2="670.3"/><line x1="674.6" y1="670.3" x2="694.0" y2="659.4"/><line x1="694.0" y1="659.4" x2="672.6" y2="642.8"/><line x1="854.3" y1="373.8" x2="858.2" y2="414.8"/><line x1="858.2" y1="414.8" x2="887.2" y2="398.2"/><line x1="887.2" y1="398.2" x2="854.3" y2="373.8"/></g><line x1="730.2" y1="512.2" x2="747.2" y2="390.2"/><line x1="747.2" y1="390.2" x2="861.9" y2="437.1"/><line x1="756.1" y1="497.7" x2="766.6" y2="424.1"/><line x1="766.6" y1="424.1" x2="835.2" y2="452.4"/><line x1="922.2" y1="462.9" x2="1037.7" y2="509.8"/><line x1="1037.7" y1="509.8" x2="704.5" y2="700.9"/><line x1="704.5" y1="700.9" x2="721.8" y2="579.1"/><line x1="896.4" y1="477.5" x2="983.2" y2="513.3"/><line x1="983.2" y1="513.3" x2="734.5" y2="656.4"/><line x1="734.5" y1="656.4" x2="749.1" y2="563.6"/><text x="667" y="591" transform="rotate(-30 667 591)" font-size="26" textLength="285" lengthAdjust="spacing" fill="rgba(0,0,0,0.11)" stroke="none">日昌电线 139 2681 1257</text></g><g transform="translate(577 510)"><g stroke-width="3.4"><line x1="625.8" y1="620.6" x2="629.4" y2="661.8"/><line x1="629.4" y1="661.8" x2="658.5" y2="644.8"/><line x1="658.5" y1="644.8" x2="625.8" y2="620.6"/><line x1="672.6" y1="642.8" x2="674.6" y2="670.3"/><line x1="674.6" y1="670.3" x2="694.0" y2="659.4"/><line x1="694.0" y1="659.4" x2="672.6" y2="642.8"/><line x1="854.3" y1="373.8" x2="858.2" y2="414.8"/><line x1="858.2" y1="414.8" x2="887.2" y2="398.2"/><line x1="887.2" y1="398.2" x2="854.3" y2="373.8"/></g><line x1="730.2" y1="512.2" x2="747.2" y2="390.2"/><line x1="747.2" y1="390.2" x2="861.9" y2="437.1"/><line x1="756.1" y1="497.7" x2="766.6" y2="424.1"/><line x1="766.6" y1="424.1" x2="835.2" y2="452.4"/><line x1="922.2" y1="462.9" x2="1037.7" y2="509.8"/><line x1="1037.7" y1="509.8" x2="704.5" y2="700.9"/><line x1="704.5" y1="700.9" x2="721.8" y2="579.1"/><line x1="896.4" y1="477.5" x2="983.2" y2="513.3"/><line x1="983.2" y1="513.3" x2="734.5" y2="656.4"/><line x1="734.5" y1="656.4" x2="749.1" y2="563.6"/><text x="667" y="591" transform="rotate(-30 667 591)" font-size="26" textLength="285" lengthAdjust="spacing" fill="rgba(0,0,0,0.11)" stroke="none">日昌电线 139 2681 1257</text></g></g></svg>
</body></html>
